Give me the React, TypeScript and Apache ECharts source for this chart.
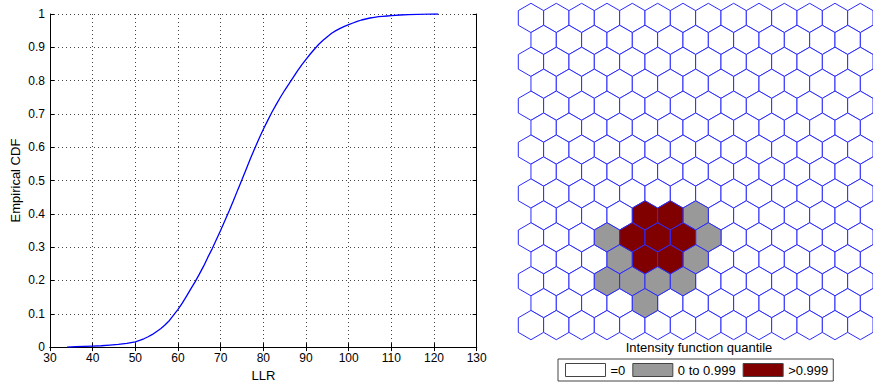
import React, { useEffect, useRef } from "react";
import * as echarts from "echarts";

// ---- Left chart: empirical CDF of LLR ----
const LLR = [
  34, 36, 38, 40, 42, 44, 46, 48, 50, 51, 52, 53, 54, 55, 56, 57, 58, 59, 60,
  61, 62, 63, 64, 65, 66, 67, 68, 69, 70, 71, 72, 73, 74, 75, 76, 77, 78, 79,
  80, 81, 82, 83, 84, 85, 86, 87, 88, 89, 90, 91, 92, 93, 94, 95, 96, 97, 98,
  99, 100, 101, 102, 103, 104, 105, 106, 107, 108, 109, 110, 112, 114, 116,
  118, 120, 121,
];
const CDF = [
  0.0, 0.001, 0.002, 0.003, 0.004, 0.006, 0.008, 0.011, 0.016, 0.02, 0.025,
  0.031, 0.038, 0.047, 0.056, 0.067, 0.08, 0.097, 0.113, 0.132, 0.153, 0.175,
  0.196, 0.219, 0.243, 0.27, 0.295, 0.323, 0.351, 0.38, 0.409, 0.44, 0.472,
  0.503, 0.535, 0.567, 0.597, 0.626, 0.654, 0.68, 0.705, 0.728, 0.75, 0.771,
  0.79, 0.81, 0.829, 0.847, 0.864, 0.88, 0.895, 0.909, 0.921, 0.932, 0.942,
  0.95, 0.957, 0.963, 0.968, 0.973, 0.978, 0.982, 0.985, 0.988, 0.99, 0.992,
  0.993, 0.994, 0.995, 0.997, 0.998, 0.999, 0.9995, 1.0, 1.0,
];

// ---- Right chart: hexagonal cells ----
const HEX_ROWS = 15;
const HEX_COLS = 14;
// [row, col] of cells with quantile in (0, 0.999]
const GRAY_CELLS = [
  [9, 6], [10, 3], [10, 7], [11, 3], [11, 6], [12, 3], [12, 4], [12, 5], [12, 6], [13, 4],
];
// [row, col] of cells with quantile > 0.999
const DARK_CELLS = [
  [9, 4], [9, 5], [10, 4], [10, 5], [10, 6], [11, 4], [11, 5],
];
const LEGEND_NAMES = ["=0", "0 to 0.999", ">0.999"];
const TITLE_RIGHT = "Intensity function quantile";

const FONT = "'Liberation Sans', Arial, Helvetica, sans-serif";
const SQ3 = Math.sqrt(3);
const ROW_H = SQ3 / 2;
const HEX_R = 1 / SQ3;

function cellCenter([r, c]: number[]) {
  return [c + (r % 2) * 0.5, r * ROW_H];
}

function buildOption() {
  const key = (r: number, c: number) => r + "_" + c;
  const taken = new Set<string>();
  GRAY_CELLS.forEach(([r, c]) => taken.add(key(r, c)));
  DARK_CELLS.forEach(([r, c]) => taken.add(key(r, c)));
  const emptyCells: number[][] = [];
  for (let r = 0; r < HEX_ROWS; r++)
    for (let c = 0; c < HEX_COLS; c++)
      if (!taken.has(key(r, c))) emptyCells.push([r, c]);

  const renderHex = (params: any, api: any) => {
    const cx = api.value(0);
    const cy = api.value(1);
    const pts: number[][] = [];
    for (let k = 0; k < 6; k++) {
      const a = (-90 + 60 * k) * (Math.PI / 180);
      pts.push(api.coord([cx + HEX_R * Math.cos(a), cy + HEX_R * Math.sin(a)]));
    }
    return {
      type: "polygon",
      shape: { points: pts },
      style: { fill: api.visual("color"), stroke: "#2b2bff", lineWidth: 1 },
    };
  };

  const hexSeries = (name: string, color: string, cells: number[][]) => ({
    type: "custom",
    name,
    xAxisIndex: 2,
    yAxisIndex: 2,
    renderItem: renderHex,
    itemStyle: { color },
    data: cells.map(cellCenter),
    silent: true,
  });

  const tickStyle = { inside: true, length: 4, lineStyle: { color: "#000" } };
  const axisLine = { show: true, lineStyle: { color: "#000", width: 1 } };
  const labelStyle = { color: "#000", fontSize: 12, fontFamily: FONT };
  const nameStyle = { color: "#000", fontSize: 13, fontFamily: FONT };
  const dotted = { show: true, lineStyle: { color: "#444", type: [1, 3], width: 1 } };

  return {
    animation: false,
    backgroundColor: "#fff",
    textStyle: { fontFamily: FONT },
    title: {
      text: TITLE_RIGHT,
      left: 694,
      top: 336,
      textAlign: "center",
      textStyle: { fontSize: 13, fontWeight: "normal", color: "#000", fontFamily: FONT },
    },
    legend: {
      left: 558,
      top: 359,
      orient: "horizontal",
      selectedMode: false,
      itemWidth: 40,
      itemHeight: 13,
      itemGap: 7,
      padding: [4, 5, 4, 7],
      borderColor: "#444",
      borderWidth: 1,
      backgroundColor: "#fff",
      textStyle: { fontSize: 13, color: "#000", fontFamily: FONT },
      data: [
        { name: LEGEND_NAMES[0], icon: "rect", itemStyle: { color: "#fff", borderColor: "#444", borderWidth: 1 } },
        { name: LEGEND_NAMES[1], icon: "rect", itemStyle: { color: "#999", borderColor: "#444", borderWidth: 1 } },
        { name: LEGEND_NAMES[2], icon: "rect", itemStyle: { color: "#800000", borderColor: "#444", borderWidth: 1 } },
      ],
    },
    grid: [
      { left: 50, top: 14, width: 426.7, height: 336.7, containLabel: false },
      { left: 518.3, top: 3.3, width: 354.7, height: 336.4, containLabel: false },
    ],
    xAxis: [
      {
        type: "value",
        gridIndex: 0,
        min: 30,
        max: 130,
        interval: 10,
        name: "LLR",
        nameLocation: "middle",
        nameGap: 19,
        nameTextStyle: nameStyle,
        axisLine,
        axisTick: tickStyle,
        axisLabel: { ...labelStyle, margin: 5 },
        splitLine: dotted,
      },
      {
        type: "value",
        gridIndex: 0,
        position: "top",
        min: 30,
        max: 130,
        interval: 10,
        axisLine,
        axisTick: tickStyle,
        axisLabel: { show: false },
        splitLine: { show: false },
      },
      {
        type: "value",
        gridIndex: 1,
        min: -0.5,
        max: HEX_COLS - 0.5,
        show: false,
      },
    ],
    yAxis: [
      {
        type: "value",
        gridIndex: 0,
        min: 0,
        max: 1,
        interval: 0.1,
        name: "Empirical CDF",
        nameLocation: "middle",
        nameGap: 28,
        nameTextStyle: nameStyle,
        axisLine,
        axisTick: tickStyle,
        axisLabel: { ...labelStyle, margin: 5 },
        splitLine: dotted,
      },
      {
        type: "value",
        gridIndex: 0,
        position: "right",
        min: 0,
        max: 1,
        interval: 0.1,
        axisLine,
        axisTick: tickStyle,
        axisLabel: { show: false },
        splitLine: { show: false },
      },
      {
        type: "value",
        gridIndex: 1,
        inverse: true,
        min: -HEX_R,
        max: (HEX_ROWS - 1) * ROW_H + HEX_R,
        show: false,
      },
    ],
    series: [
      {
        type: "line",
        xAxisIndex: 0,
        yAxisIndex: 0,
        data: LLR.map((x, i) => [x, CDF[i]]),
        showSymbol: false,
        symbol: "none",
        lineStyle: { color: "#0000ff", width: 1.3 },
        z: 5,
        silent: true,
      },
      hexSeries(LEGEND_NAMES[0], "#ffffff", emptyCells),
      hexSeries(LEGEND_NAMES[1], "#999999", GRAY_CELLS),
      hexSeries(LEGEND_NAMES[2], "#800000", DARK_CELLS),
    ],
  };
}

export default function App() {
  const ref = useRef<HTMLDivElement>(null);
  useEffect(() => {
    document.body.style.margin = "0";
    if (!ref.current) return;
    const chart = echarts.init(ref.current, null, { renderer: "svg" });
    chart.setOption(buildOption() as any);
    return () => chart.dispose();
  }, []);
  return <div ref={ref} style={{ width: 873, height: 387 }} />;
}
